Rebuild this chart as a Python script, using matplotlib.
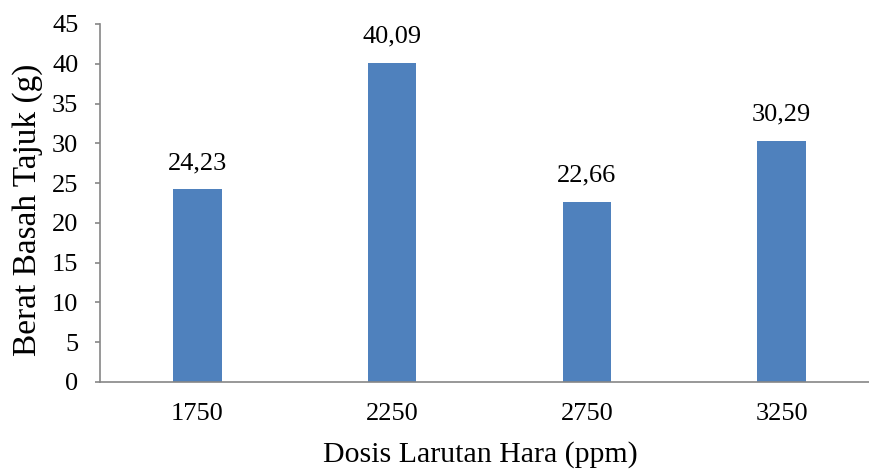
import matplotlib.pyplot as plt

# Berat basah tajuk per dosis larutan hara
dosis = ["1750", "2250", "2750", "3250"]
berat = [24.23, 40.09, 22.66, 30.29]
label_nilai = ["24,23", "40,09", "22,66", "30,29"]

plt.rcParams["font.family"] = ["Liberation Serif", "DejaVu Serif"]

fig = plt.figure(figsize=(8.7, 4.72), dpi=100)
ax = fig.add_axes([100 / 870, 1 - 382 / 472, 779 / 870, 358 / 472])

pos = range(len(dosis))
bars = ax.bar(pos, berat, width=0.25, color="#4F81BD")

for b, txt in zip(bars, label_nilai):
    ax.annotate(txt, (b.get_x() + b.get_width() / 2, b.get_height()),
                xytext=(0, 11), textcoords="offset points",
                ha="center", va="bottom", fontsize=19)

ax.set_xlim(-0.5, len(dosis) - 0.5)
ax.set_ylim(0, 45)
ax.set_yticks(range(0, 46, 5))
ax.set_xticks(list(pos))
ax.set_xticklabels(dosis)

ax.tick_params(axis="y", labelsize=19, length=3.6, width=1.2, color="#868686", pad=12)
ax.tick_params(axis="x", labelsize=19, length=0, pad=15)

for s in ["top", "right"]:
    ax.spines[s].set_visible(False)
for s in ["left", "bottom"]:
    ax.spines[s].set_color("#868686")
    ax.spines[s].set_linewidth(1.2)

ax.set_ylabel("Berat Basah Tajuk (g)", fontsize=24)
ax.yaxis.set_label_coords(-0.073, 0.48)
ax.set_xlabel("Dosis Larutan Hara (ppm)", fontsize=21.5)
ax.xaxis.set_label_coords((480 - 100) / 779, -0.166)

fig.savefig("out.png", dpi=100)
